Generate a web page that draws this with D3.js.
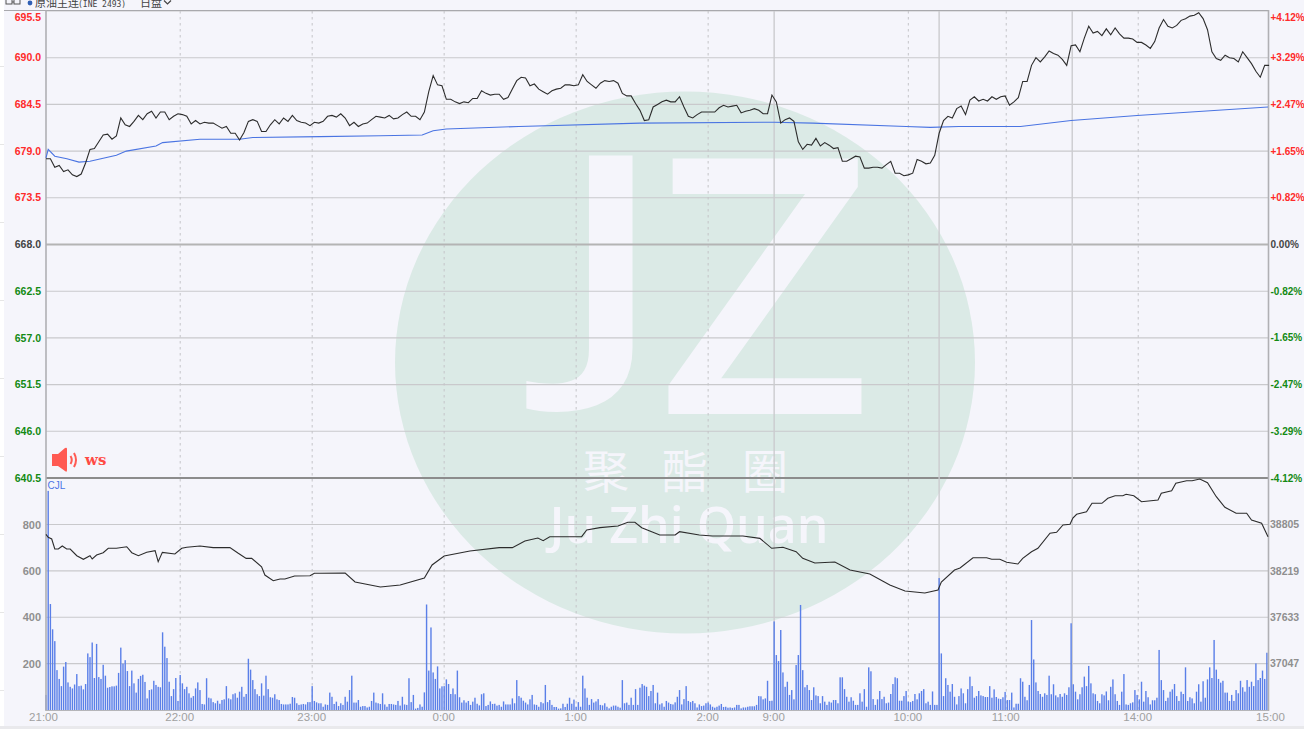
<!DOCTYPE html>
<html><head><meta charset="utf-8">
<script src="https://cdn.jsdelivr.net/npm/d3@7/dist/d3.min.js"></script>
<style>
html,body{margin:0;padding:0;background:#f5f5fb;overflow:hidden}
svg{display:block}
text{font-family:"Liberation Sans",Arial,sans-serif}
</style></head><body>
<svg id="c" width="1304" height="729"></svg>
<script>
// Price, sampled every 2 session minutes
const price=[678.1,678.1,677.1,677.3,676.6,676.8,676.2,676.0,676.3,677.6,679.2,679.3,680.1,680.9,681.0,680.4,680.8,682.9,682.1,681.9,682.5,683.2,682.7,683.4,683.7,682.9,683.6,683.6,682.7,683.1,683.4,683.3,683.1,682.2,682.6,682.2,682.4,682.3,682.3,682.0,681.7,681.9,681.1,681.1,680.3,681.2,682.5,682.7,682.5,681.3,681.3,682.1,682.7,682.2,682.9,682.5,683.2,682.6,682.4,682.3,682.0,682.4,682.3,
682.5,683.1,683.2,683.0,683.4,682.9,682.0,682.4,681.9,682.2,682.3,682.7,683.1,683.0,682.9,683.2,682.8,682.9,683.3,683.6,683.1,683.1,682.7,683.6,686.0,687.9,686.8,686.7,685.1,685.1,684.8,684.6,684.8,684.7,685.2,685.2,686.1,685.8,685.6,685.7,685.7,685.1,685.3,686.3,687.3,687.7,687.6,686.7,686.9,686.3,686.0,685.7,686.1,686.3,686.4,686.8,686.8,686.7,686.8,688.0,687.2,686.8,686.4,687.0,687.3,687.2,687.3,687.0,685.8,685.5,685.5,684.6,683.8,
682.6,682.7,684.2,684.5,684.8,685.0,684.8,684.8,685.4,684.2,683.1,682.9,683.3,683.6,683.6,683.6,683.6,684.1,684.4,684.2,684.3,684.4,683.5,683.7,683.8,684.0,683.8,683.4,683.4,685.6,684.8,682.3,682.7,682.9,682.5,680.1,679.2,679.8,679.7,680.5,679.6,680.0,679.7,679.3,679.4,677.8,677.8,678.1,678.4,678.3,677.0,677.0,677.1,677.1,677.0,677.4,677.8,676.4,676.4,676.1,676.2,676.4,678.0,677.8,677.5,677.6,678.5,681.1,682.6,683.1,682.9,684.0,
684.3,683.3,685.0,685.4,684.9,685.1,684.9,685.4,685.1,685.4,685.5,684.4,684.8,685.3,687.2,687.2,689.1,690.0,689.5,690.1,690.8,690.5,690.3,689.8,689.1,691.4,691.5,690.7,692.3,693.7,692.9,693.1,692.6,693.4,692.7,693.5,692.8,692.3,692.3,692.2,691.8,691.8,691.5,691.1,691.9,693.5,694.5,693.7,693.5,693.8,694.4,694.6,694.9,695.0,695.3,694.6,693.3,690.7,689.9,689.7,690.3,690.0,689.9,689.5,690.7,690.0,689.3,688.4,687.7,689.1,689.1];
const priceStep=2;
// Average price line
const avgMinute=[0,1,4,9.5,15,20,32,36.5,50,53,70,88,94,124.5,152,171,176,182,215,270,331,348.6,391,402,415,443,466,496,555.5];
const avgPrice=[678.2,679.2,678.4,678.1,677.7,677.8,678.5,679.0,679.6,680.0,680.4,680.4,680.6,680.7,680.8,680.9,681.4,681.6,681.9,682.3,682.4,682.3,681.9,681.8,681.9,681.9,682.6,683.2,684.2];
// Open interest line
const oiMinute=[0,1,2.6,4,5.6,7.4,9.4,11,14,17,20,21,23,26,28.3,32,36.7,39,42,45.8,49.6,51,52.9,58.6,61.7,64,70,76,83.6,87.4,91,93.5,98,99.5,103.3,106.4,108.6,113,120,122,124.5,136,140.5,152,161,172,175.5,181,192.7,206,212,217.7,223.6,226,229,243.5,245.8,251.8,260,264.5,267.7,270.8,279,286,288,297,303,316.8,324.5,329.9,335,341,344,349.5,358.6,365.5,374.5,383.6,390.5,399.5,405.5,407,413,415.5,421.4,427.6,429.9,433.6,436.7,441.8,444,448,450.9,456.4,459.4,462.3,465.5,466.8,468.5,473,475.5,480,482.7,486,489.5,491,494.5,498,505.5,507,511.7,513.6,518.5,521,524.5,528,532,535.9,541,545.8,548,552.6,555.5];
const oiValue=[38681,38643,38622,38495,38495,38533,38495,38495,38410,38365,38410,38369,38419,38448,38504,38504,38524,38448,38410,38453,38474,38334,38453,38432,38504,38517,38533,38512,38512,38441,38377,38377,38271,38166,38094,38116,38116,38154,38157,38188,38188,38191,38078,38014,38040,38128,38293,38407,38470,38512,38512,38596,38634,38600,38651,38651,38735,38765,38786,38833,38833,38765,38672,38672,38714,38672,38660,38660,38630,38504,38517,38461,38377,38318,38331,38229,38179,38040,37964,37938,37976,38078,38229,38255,38385,38385,38365,38365,38327,38305,38377,38461,38504,38694,38706,38799,38808,38887,38934,38967,39073,39073,39136,39169,39169,39187,39169,39093,39115,39200,39233,39326,39359,39359,39381,39334,39157,39023,38947,38947,38862,38820,38651];
// Volume per session minute
const volume=[65,945,457,348,297,172,134,103,187,207,119,100,93,110,155,103,105,89,112,244,228,291,138,285,142,134,195,148,96,99,102,102,105,160,269,200,215,168,103,170,115,75,134,147,152,121,50,86,89,126,108,100,98,335,273,224,122,60,90,138,39,151,115,90,100,72,53,60,93,119,86,26,24,137,53,50,34,29,40,27,43,46,103,50,46,68,72,53,79,100,57,69,221,174,129,90,68,60,115,62,148,90,55,53,68,46,43,26,24,24,24,27,56,53,29,22,24,26,24,34,34,103,39,33,29,29,
14,24,22,75,57,26,36,17,29,22,57,36,86,148,32,32,43,14,17,17,11,14,39,75,32,29,26,72,24,14,26,26,24,22,39,19,57,24,22,137,34,65,6,9,24,14,76,455,170,356,162,134,188,93,102,103,132,112,69,93,68,170,55,32,42,32,39,22,36,53,27,20,68,72,17,22,37,26,27,19,22,14,37,24,24,24,50,29,129,60,53,40,32,24,46,65,24,22,14,34,29,108,34,43,22,13,13,6,7,27,13,27,53,27,45,14,34,14,148,93,53,22,47,32,37,47,22,20,29,14,7,14,19,19,14,10,129,29,32,22,53,22,90,22,96,
112,105,100,60,82,108,29,75,24,29,14,39,32,26,24,33,57,86,24,47,103,39,34,39,29,11,24,17,19,29,32,24,14,10,14,19,26,13,14,10,11,9,11,22,22,7,11,11,14,16,16,16,22,60,59,46,50,126,39,40,382,237,211,345,162,100,122,65,86,46,194,237,453,172,98,108,86,43,98,63,60,29,60,36,22,36,32,43,43,29,141,141,90,57,36,55,40,22,22,72,36,90,14,184,167,47,22,46,82,47,57,29,32,69,112,141,137,40,40,60,82,36,34,39,69,46,72,82,90,29,36,22,80,22,22,569,244,60,137,108,79,112,57,24,60,
93,72,29,90,144,103,53,60,82,63,60,56,56,103,53,89,56,49,47,55,78,43,43,75,11,27,27,137,122,57,42,108,388,218,119,82,69,57,72,65,148,68,111,63,55,69,57,72,65,98,374,111,79,46,68,98,144,103,190,115,72,68,39,29,68,63,80,42,100,132,68,39,22,79,155,24,22,29,33,86,65,46,122,36,82,55,24,42,42,53,259,129,86,39,53,79,89,112,60,39,79,69,184,39,55,50,29,79,111,36,124,53,132,184,138,302,174,134,118,126,75,75,39,65,39,86,72,126,98,79,129,100,122,103,201,129,138,170,134,247];
// Axes
const priceTicks=[695.5,690.0,684.5,679.0,673.5,668.0,662.5,657.0,651.5,646.0,640.5];
const pctLabels=["+4.12%","+3.29%","+2.47%","+1.65%","+0.82%","0.00%","-0.82%","-1.65%","-2.47%","-3.29%","-4.12%"];
const volTicks=[800,600,400,200];
const oiTicks=[38805,38219,37633,37047];
const timeMinute=[0,61,121,181,241,301,331,392,436.5,496.5,555.5];
const timeLabels=["21:00","22:00","23:00","0:00","1:00","2:00","9:00","10:00","11:00","14:00","15:00"];
const sessionMinute=[331,406,466.5];

const L=46,R=1268,T=11,M=478,B=710;
const x=d3.scaleLinear().domain([0,555.5]).range([L,R]);
const yP=d3.scaleLinear().domain([640.5,695.5]).range([M,T]);
const yV=d3.scaleLinear().domain([0,800]).range([B,524.5]);
const yO=d3.scaleLinear().domain([37047,38805]).range([663.5,524.5]);
const svg=d3.select("#c");
const bg="#f5f5fb";

// page edges
svg.append("rect").attr("width",4).attr("height",729).attr("fill","#fff");
svg.selectAll("line.edge").data(d3.range(66,729,78)).join("line").attr("class","edge")
  .attr("x1",0).attr("x2",4).attr("y1",d=>d+.5).attr("y2",d=>d+.5).attr("stroke","#e6e6e6");
svg.append("rect").attr("x",0).attr("y",726).attr("width",1304).attr("height",3).attr("fill","#e9e9ec");

// watermark
const wm=svg.append("g");
wm.append("ellipse").attr("cx",685).attr("cy",362.5).attr("rx",290).attr("ry",271).attr("fill","#dbeae6");
wm.append("text").attr("transform","translate(555,356) scale(1.32,1)").attr("font-size",281).attr("font-weight",600)
  .attr("fill",bg).style("font-family",'"Open Sans"').text("J");
wm.append("text").attr("transform","translate(765,414) scale(1.05,1)").attr("text-anchor","middle").attr("font-size",358).attr("font-weight",600)
  .attr("fill",bg).style("font-family",'"Open Sans"').text("Z");
[["聚",606],["酯",685],["圈",765]].forEach(([t,px])=>wm.append("text").attr("x",px).attr("y",488).attr("text-anchor","middle")
  .attr("font-size",46).attr("fill",bg).style("font-family",'"Noto Sans CJK SC"').text(t));
wm.append("text").attr("x",689).attr("y",543).attr("text-anchor","middle").attr("font-size",50).attr("font-weight",600)
  .attr("fill",bg).style("font-family",'"Open Sans"').text("Ju Zhi Quan");

// horizontal grid
const gridColor=v=>v===668?"#b4b4b4":v===640.5?"#8c8c8c":"#c9c9cc";
const gridWidth=v=>v===668?2:v===640.5?2:1.1;
svg.append("g").selectAll("line").data(priceTicks).join("line")
  .attr("x1",L).attr("x2",R).attr("y1",d=>yP(d)).attr("y2",d=>yP(d))
  .attr("stroke",gridColor).attr("stroke-width",gridWidth);
svg.append("g").selectAll("line").data(volTicks).join("line")
  .attr("x1",L).attr("x2",R).attr("y1",d=>yV(d)).attr("y2",d=>yV(d)).attr("stroke","#c9c9cc").attr("stroke-width",1.1);
// vertical grid
svg.append("g").selectAll("line").data(timeMinute.slice(1,-1).filter(m=>!sessionMinute.includes(m))).join("line")
  .attr("x1",d=>x(d)).attr("x2",d=>x(d)).attr("y1",T).attr("y2",B)
  .attr("stroke","#c4c4c8").attr("stroke-dasharray","2.5,3.5");
svg.append("g").selectAll("line").data(sessionMinute).join("line")
  .attr("x1",d=>x(d)).attr("x2",d=>x(d)).attr("y1",T).attr("y2",B)
  .attr("stroke","#cbcbcf").attr("stroke-width",1.4);

// volume
svg.append("g").selectAll("rect").data(volume).join("rect")
  .attr("x",(d,i)=>x(i)-.7).attr("width",1.4)
  .attr("y",d=>yV(d)).attr("height",d=>B-yV(d)).attr("fill","#5a7fe8");

// frame
svg.append("line").attr("x1",4).attr("x2",R+1).attr("y1",10.5).attr("y2",10.5).attr("stroke","#a9a9ad").attr("stroke-width",1.2);
svg.append("line").attr("x1",L).attr("x2",L).attr("y1",10).attr("y2",B+1).attr("stroke","#b0b0b4").attr("stroke-width",1.6);
svg.append("line").attr("x1",R+.5).attr("x2",R+.5).attr("y1",10).attr("y2",B+1).attr("stroke","#b0b0b4").attr("stroke-width",1.6);
svg.append("line").attr("x1",L).attr("x2",R).attr("y1",B+.5).attr("y2",B+.5).attr("stroke","#b5b5b9");

// lines
const lineIdx=d3.line().x((d,i)=>x(i*priceStep)).y(d=>yP(d));
const pair=(xs,ys,yS)=>d3.line().x((d,i)=>x(xs[i])).y((d,i)=>yS(ys[i]))(xs);
svg.append("path").attr("d",pair(avgMinute,avgPrice,yP)).attr("fill","none").attr("stroke","#4a74e2").attr("stroke-width",1.1);
svg.append("path").attr("d",lineIdx(price)).attr("fill","none").attr("stroke","#2c2c2c").attr("stroke-width",1.1);
svg.append("path").attr("d",pair(oiMinute,oiValue,yO)).attr("fill","none").attr("stroke","#2c2c2c").attr("stroke-width",1.1);

// axes
const styleAxis=g=>{g.select(".domain").remove();g.selectAll(".tick line").remove();
  g.selectAll("text").style("font-family",'"Liberation Sans",Arial,sans-serif');};
const priceCol=v=>v>668?"#ff2a2a":v<668?"#138a13":"#444";
const gl=svg.append("g").attr("transform",`translate(${L-5},0)`).call(d3.axisLeft(yP).tickValues(priceTicks).tickSize(0).tickPadding(0).tickFormat(d3.format(".1f"))).call(styleAxis);
gl.selectAll("text").attr("font-size",10.5).attr("font-weight",700).attr("fill",priceCol).attr("dy",(d)=>d===695.5?"0.9em":"0.3em");
const gr=svg.append("g").attr("transform",`translate(${R+2.5},0)`).call(d3.axisRight(yP).tickValues(priceTicks).tickSize(0).tickPadding(0).tickFormat((d,i)=>pctLabels[i])).call(styleAxis);
gr.selectAll("text").attr("font-size",10).attr("font-weight",700).attr("fill",priceCol).attr("dy",(d)=>d===695.5?"0.95em":"0.3em");
const gv=svg.append("g").attr("transform",`translate(${L-5},0)`).call(d3.axisLeft(yV).tickValues(volTicks).tickSize(0).tickPadding(0)).call(styleAxis);
gv.selectAll("text").attr("font-size",11).attr("font-weight",700).attr("fill","#8f8f8f");
const go=svg.append("g").attr("transform",`translate(${R+2},0)`).call(d3.axisRight(yO).tickValues(oiTicks).tickSize(0).tickPadding(0).tickFormat(d3.format("d"))).call(styleAxis);
go.selectAll("text").attr("font-size",10.5).attr("font-weight",700).attr("fill","#8f8f8f");
const gb=svg.append("g").attr("transform",`translate(0,${B})`).call(d3.axisBottom(x).tickValues(timeMinute).tickSize(0).tickPadding(3).tickFormat((d,i)=>timeLabels[i])).call(styleAxis);
gb.selectAll("text").attr("font-size",11.5).attr("fill","#a0a0a0").attr("dx",(d,i)=>i===0?-3:i===timeLabels.length-1?2:-1);

// labels
svg.append("text").attr("x",47.5).attr("y",489).attr("font-size",10).attr("fill","#4c73e6").text("CJL");

// header, cropped by the page top
const hd=svg.append("g");
hd.selectAll("rect").data([6,14]).join("rect").attr("x",d=>d).attr("y",-1).attr("width",6).attr("height",5)
  .attr("fill","none").attr("stroke","#555");
hd.append("line").attr("x1",12).attr("x2",14).attr("y1",2).attr("y2",2).attr("stroke","#555");
hd.append("circle").attr("cx",30).attr("cy",3).attr("r",2.4).attr("fill","#2f5fb5");
hd.append("text").attr("x",35).attr("y",7).attr("font-size",11).attr("fill","#444").style("font-family",'"Noto Sans CJK SC"').text("原油主连");
hd.append("text").attr("x",78).attr("y",6.5).attr("font-size",8).attr("fill","#444").style("font-family",'"DejaVu Sans Mono"').text("(INE 2493)");
hd.append("text").attr("x",140).attr("y",7).attr("font-size",11).attr("fill","#444").style("font-family",'"Noto Sans CJK SC"').text("日盘");
hd.append("path").attr("d","M164,0.5 L167.5,4 L171,0.5").attr("fill","none").attr("stroke","#444").attr("stroke-width",1.2);

// speaker badge
const sp=svg.append("g");
sp.append("path").attr("d","M52,454 L58,454 L65,448 Q67,447 67,449 L67,470 Q67,473 65,471 L58,466 L52,466 Q52,460 52,454 Z").attr("fill","#ff5a52");
sp.append("path").attr("d","M70.5,456 Q73,460 70.5,464").attr("fill","none").attr("stroke","#ff5a52").attr("stroke-width",2);
sp.append("path").attr("d","M74,453 Q78,460 74,467").attr("fill","none").attr("stroke","#ff5a52").attr("stroke-width",2);
sp.append("text").attr("x",85).attr("y",465).attr("font-size",15).attr("font-weight",700).attr("fill","#ff4a44").style("font-family",'"DejaVu Serif"').text("ws");
</script>
</body></html>
